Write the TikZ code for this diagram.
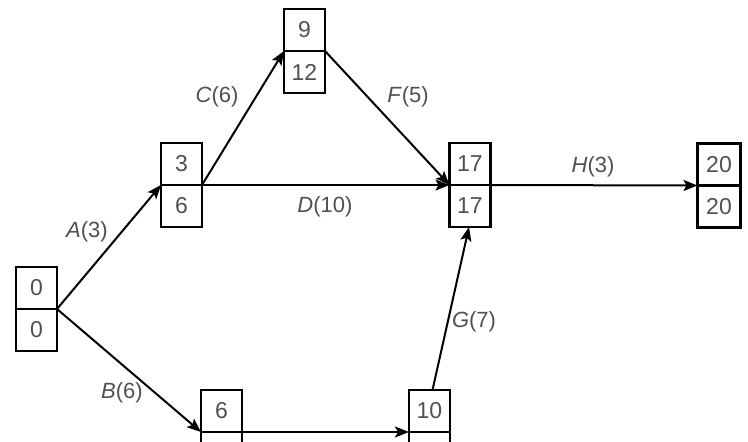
\documentclass[tikz,border=0pt]{standalone}
\usepackage{fontspec}
\setmainfont{Liberation Sans}
\usetikzlibrary{arrows.meta}
\definecolor{txtgray}{HTML}{505050}
\tikzset{
  cell/.style={draw=black, line width=2.2pt, minimum width=41pt, minimum height=42pt,
    inner sep=0pt, outer sep=0pt, text=txtgray, font=\fontsize{23}{27}\selectfont},
  edge/.style={line width=2pt, draw=black},
  arr/.style={edge, -{Stealth[length=14pt,width=11pt,inset=3pt]}},
  lbl/.style={text=txtgray, font=\fontsize{22}{26}\selectfont, inner sep=0pt}
}
\begin{document}
\begin{tikzpicture}[x=1pt,y=-1pt]
\useasboundingbox (0,0) rectangle (748,442);
\clip (0,0) rectangle (748,442);
% events
\node[cell, anchor=south] (n0t) at (36.5,309) {0};
\node[cell, anchor=north] (n0b) at (36.5,309) {0};
\node[cell, anchor=south] (n3t) at (181.5,185) {3};
\node[cell, anchor=north] (n3b) at (181.5,185) {6};
\node[cell, anchor=south] (n9t) at (304.5,51) {9};
\node[cell, anchor=north] (n9b) at (304.5,51) {12};
\node[cell, anchor=south] (n17t) at (470,185) {17};
\node[cell, anchor=north] (n17b) at (470,185) {17};
\node[cell, anchor=south, minimum width=43pt] (n20t) at (719,185.5) {20};
\node[cell, anchor=north, minimum width=43pt] (n20b) at (719,185.5) {20};
\node[cell, anchor=south] (n6t) at (221.5,432) {6};
\node[cell, anchor=north] (n6b) at (221.5,432) {};
\node[cell, anchor=south] (n10t) at (429.5,432) {10};
\node[cell, anchor=north] (n10b) at (429.5,432) {};
% activities
\draw[arr] (n0t.south east) -- (n3t.south west);
\draw[arr] (n0t.south east) -- (n6t.south west);
\draw[arr] (n3t.south east) -- (n9t.south west);
\draw[arr] (n3t.south east) -- (n17t.south west);
\draw[arr] (n9t.south east) -- (n17t.south west);
\draw[arr] (n17t.south east) -- (n20t.south west);
\draw[arr] (n6t.south east) -- (n10t.south west);
\draw[arr] ([xshift=3pt]n10t.north) -- ([xshift=-1pt]n17b.south);
% labels
\node[lbl] (la) at (87,232) {\textit{A}(3)};
\node[lbl] (lb) at (122,393) {\textit{B}(6)};
\node[lbl] (lc) at (217,97) {\textit{C}(6)};
\node[lbl] (lf) at (408,97) {\textit{F}(5)};
\node[lbl] (ld) at (325,207) {\textit{D}(10)};
\node[lbl] (lh) at (593,167) {\textit{H}(3)};
\node[lbl] (lg) at (474,322) {\textit{G}(7)};
\end{tikzpicture}
\end{document}
